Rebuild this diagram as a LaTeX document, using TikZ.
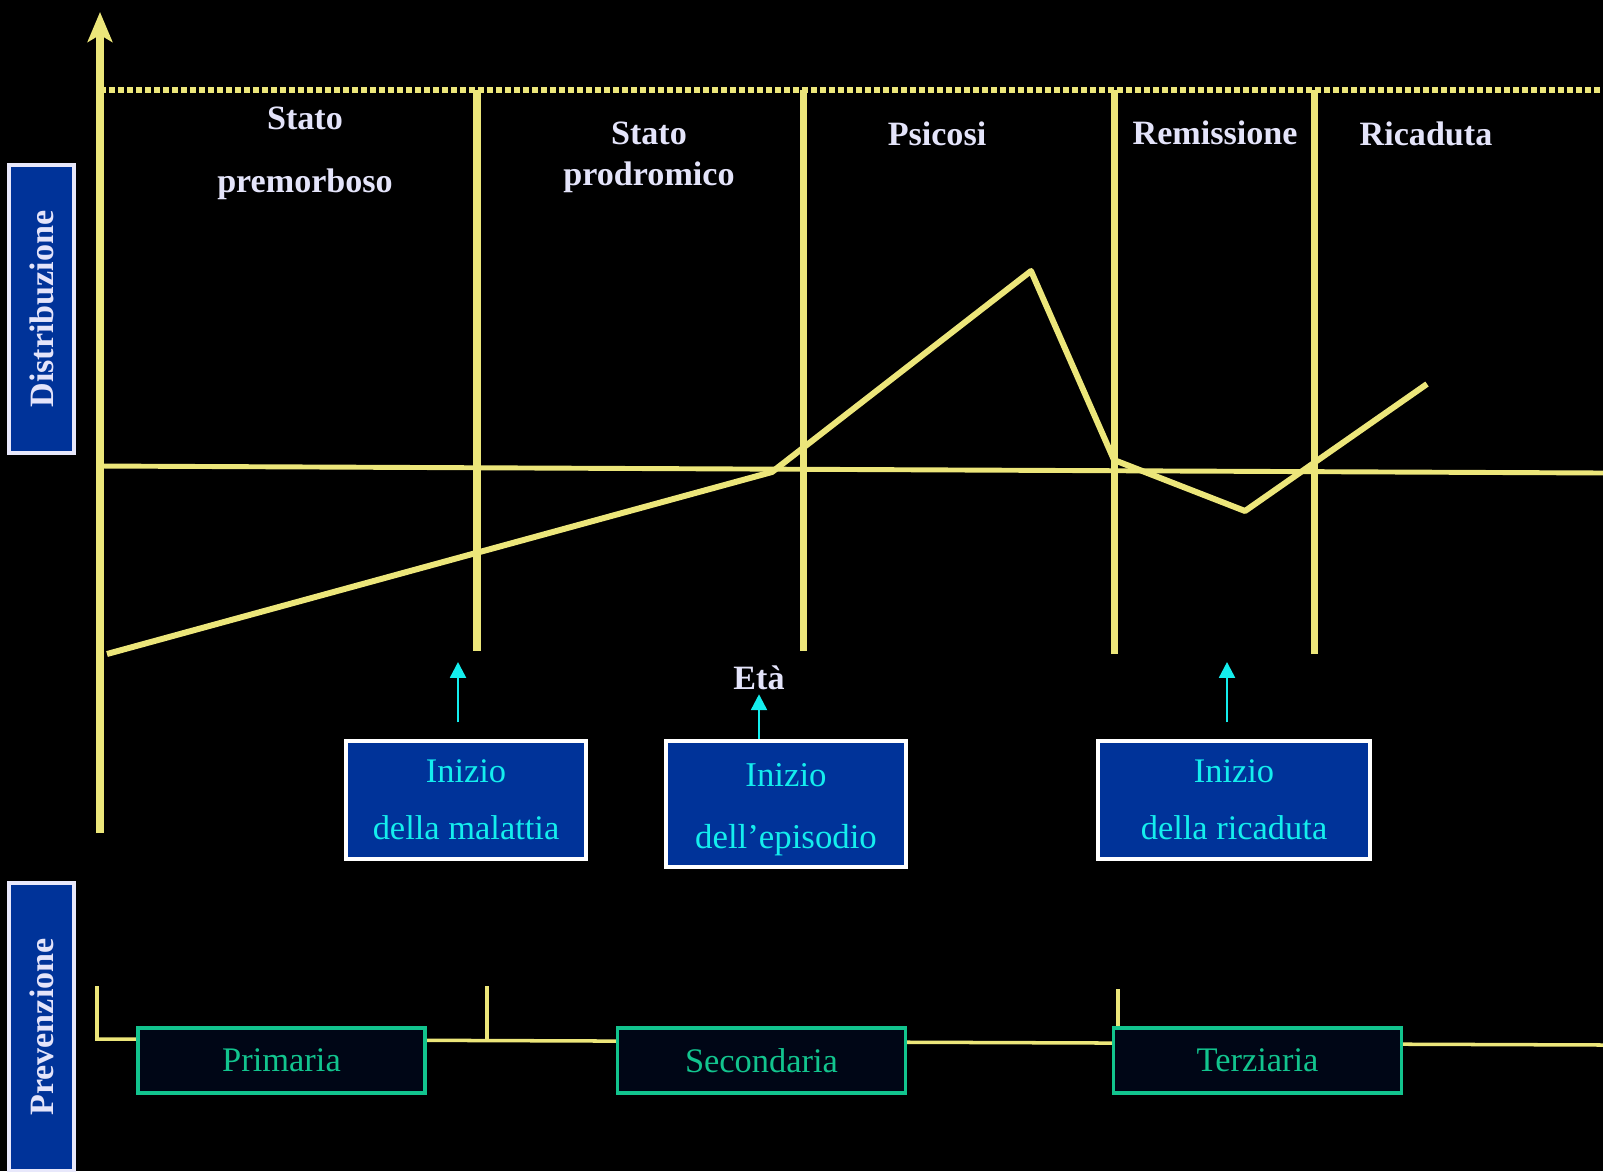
\documentclass[tikz,border=0pt]{standalone}
\usepackage{fontspec}
\setmainfont{Liberation Serif}
\usetikzlibrary{arrows.meta}
\definecolor{chalkyellow}{RGB}{236, 230, 122}
\definecolor{slideblue}{RGB}{0, 51, 153}
\definecolor{onsetcyan}{RGB}{20, 238, 238}
\definecolor{prevgreen}{RGB}{18, 196, 142}
\definecolor{palelav}{RGB}{228, 228, 250}
\definecolor{nightbg}{RGB}{0, 6, 22}

\begin{document}
\begin{tikzpicture}[
    phase/.style={text=palelav,font=\fontsize{9.7}{11.6}\selectfont\bfseries,align=center,inner sep=0pt},
    onset/.style={draw=white,line width=.9pt,fill=slideblue,text=onsetcyan,align=center,inner sep=0pt,
      minimum height=1.18cm,font=\fontsize{9.8}{16.2}\selectfont},
    prevbox/.style={draw=prevgreen,line width=.9pt,fill=nightbg,text=prevgreen,inner sep=0pt,
      minimum width=2.88cm,minimum height=.65cm,font=\fontsize{9.8}{12}\selectfont},
    sidetag/.style={draw=palelav!85,line width=.9pt,fill=slideblue,text=palelav,rotate=90,inner sep=0pt,
      minimum width=2.88cm,minimum height=.65cm,font=\fontsize{9.7}{12}\selectfont\bfseries},
    chalk/.style={chalkyellow,line width=1.7pt},
    pointer/.style={onsetcyan,line width=.7pt,-{Triangle[length=4.5pt,width=4.5pt]}}
  ]
  \useasboundingbox (0,0) rectangle (16.03,11.71);
  \fill[black] (0,0) rectangle (16.03,11.71);
  %\draw[step=1cm,gray,very thin] (0,0) grid (16,11);

  % upper chart
  \draw[chalkyellow,line width=1.8pt,dash pattern=on .06cm off .03cm] (1,10.81) -- (16.03,10.81);
  \draw[chalk,line width=2pt,-{Stealth[length=8.5pt,width=7pt,inset=2pt]}] (1,3.38) -- (1,11.59);
  \draw[chalk,line width=1.4pt] (0.97,7.05) -- (16.03,6.98);
  \foreach \xx/\yy in {4.77/5.20,8.03/5.20,11.14/5.17,13.14/5.17}
    \draw[chalk,line width=2pt] (\xx,10.81) -- (\xx,\yy);
  \draw[chalk,line join=round] (1.07,5.17) -- (7.72,6.99) -- (10.31,9.00) -- (11.14,7.11)
    -- (12.45,6.60) -- (14.27,7.87);

  \node[phase] (premorb) at (3.05,10.18) {Stato\\[6.3pt]premorboso};
  \node[phase] (prodrom) at (6.49,10.14) {Stato\\prodromico};
  \node[phase] (psicosi) at (9.37,10.37) {Psicosi};
  \node[phase] (remiss) at (12.15,10.38) {Remissione};
  \node[phase] (ricad) at (14.26,10.37) {Ricaduta};
  \node[phase,inner sep=1pt] (eta) at (7.59,4.93) {Età};

  % onset boxes
  \node[onset,minimum width=2.40cm] (malattia) at (4.66,3.71) {Inizio\\della malattia};
  \node[onset,minimum width=2.40cm,minimum height=1.26cm,font=\fontsize{9.9}{17.6}\selectfont] (episodio) at (7.86,3.67) {\rule{0pt}{10pt}Inizio\\dell’episodio};
  \node[onset,minimum width=2.72cm] (ricaduta) at (12.34,3.71) {Inizio\\della ricaduta};
  \coordinate (malattiatip) at (4.58,5.09);
  \coordinate (ricadutatip) at (12.27,5.09);
  \draw[pointer,shorten <=.17cm] (malattia.north -| malattiatip) -- (malattiatip);
  \draw[pointer] (episodio.north -| eta) -- (eta.south);
  \draw[pointer,shorten <=.17cm] (ricaduta.north -| ricadutatip) -- (ricadutatip);

  % side tags
  \node[sidetag] (distr) at (0.415,8.62) {Distribuzione};
  \node[sidetag] (prev) at (0.415,1.44) {Prevenzione};

  % prevention line
  \draw[chalkyellow,line width=1pt] (0.97,1.85) -- (0.97,1.32) -- (16.03,1.26);
  \draw[chalkyellow,line width=1pt] (4.87,1.85) -- (4.87,1.31);
  \draw[chalkyellow,line width=1pt] (11.18,1.82) -- (11.18,1.29);
  \node[prevbox,minimum width=2.87cm] (primaria) at (2.815,1.105) {Primaria};
  \node[prevbox] (secondaria) at (7.615,1.105) {Secondaria};
  \node[prevbox] (terziaria) at (12.575,1.105) {Terziaria};
\end{tikzpicture}
\end{document}
